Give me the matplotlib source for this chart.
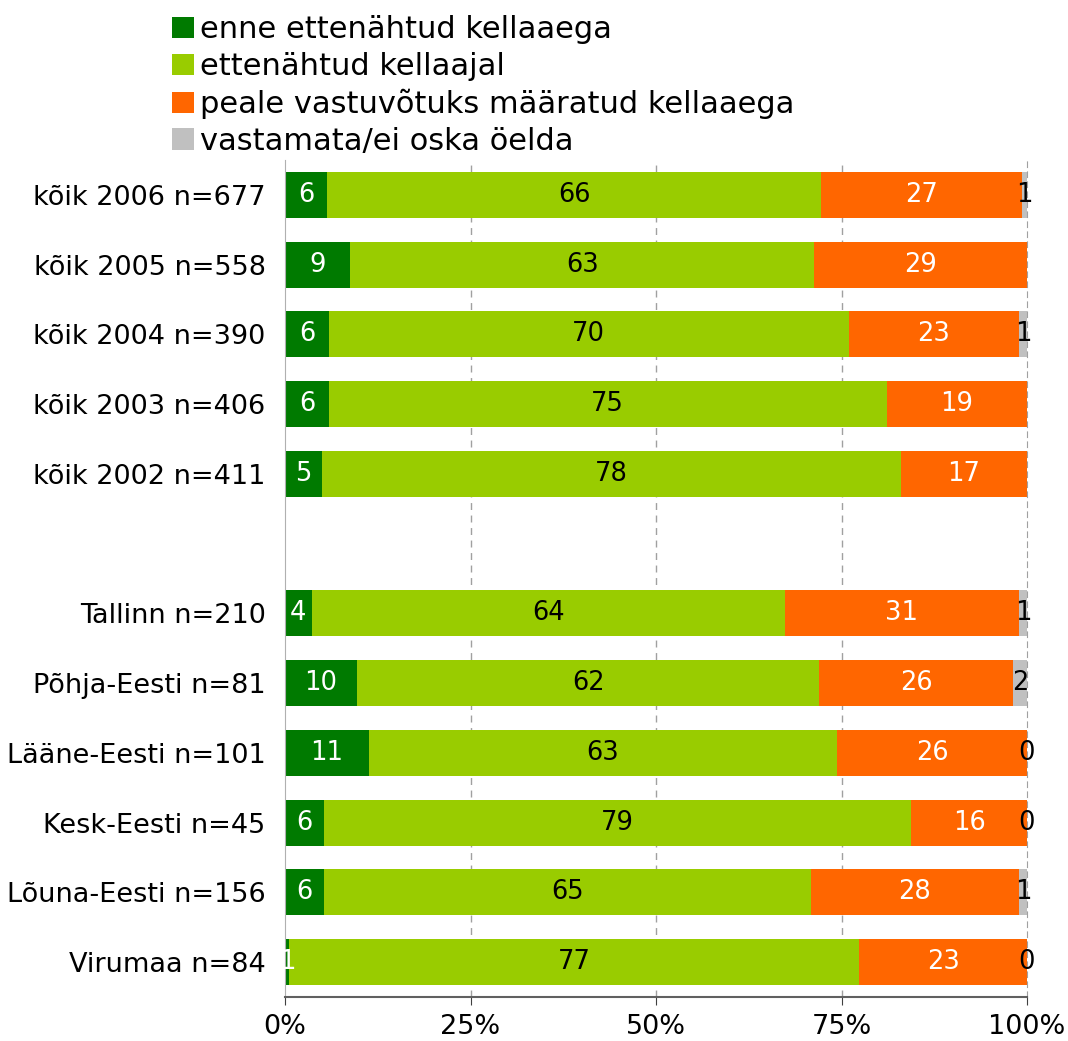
import matplotlib
matplotlib.use("Agg")
import matplotlib.pyplot as plt
import numpy as np

plt.rcParams['font.family'] = ['DejaVu Sans']

# kategooriad ülevalt alla (None = tühi vahe)
categories = ['kõik 2006 n=677', 'kõik 2005 n=558', 'kõik 2004 n=390',
              'kõik 2003 n=406', 'kõik 2002 n=411', None,
              'Tallinn n=210', 'Põhja-Eesti n=81', 'Lääne-Eesti n=101',
              'Kesk-Eesti n=45', 'Lõuna-Eesti n=156', 'Virumaa n=84']

series_names = ['enne ettenähtud kellaaega', 'ettenähtud kellaajal',
                'peale vastuvõtuks määratud kellaaega', 'vastamata/ei oska öelda']

# ribade tegelikud osakaalud (%)
enne = [5.7, 8.8, 5.9, 5.9, 5.0, 0, 3.6, 9.7, 11.3, 5.3, 5.3, 0.5]
ajal = [66.5, 62.5, 70.1, 75.2, 78.0, 0, 63.8, 62.3, 63.1, 79.1, 65.6, 76.9]
peale = [27.1, 28.7, 22.9, 18.9, 17.0, 0, 31.5, 26.1, 25.6, 15.6, 28.0, 22.6]
vastamata = [0.7, 0.0, 1.1, 0.0, 0.0, 0, 1.1, 1.9, 0.0, 0.0, 1.1, 0.0]

# sildid nagu joonisel
lab_enne = [6, 9, 6, 6, 5, None, 4, 10, 11, 6, 6, 1]
lab_ajal = [66, 63, 70, 75, 78, None, 64, 62, 63, 79, 65, 77]
lab_peale = [27, 29, 23, 19, 17, None, 31, 26, 26, 16, 28, 23]
lab_vast = [1, None, 1, None, None, None, 1, 2, 0, 0, 1, 0]

colors = ['#007A00', '#99CC00', '#FF6600', '#C0C0C0']
text_colors = ['white', 'black', 'white', 'black']

fig = plt.figure(figsize=(10.68, 10.41), dpi=100)
ax = fig.add_axes([0.2669, 0.0423, 0.6947, 0.804])

y = np.arange(len(categories))
data = [enne, ajal, peale, vastamata]
labels = [lab_enne, lab_ajal, lab_peale, lab_vast]
left = np.zeros(len(categories))
for vals, labs, col, tcol, name in zip(data, labels, colors, text_colors, series_names):
    vals = np.array(vals, dtype=float)
    ax.barh(y, vals, left=left, height=0.66, color=col, label=name, zorder=2)
    for i, lab in enumerate(labs):
        if lab is None:
            continue
        ax.text(left[i] + vals[i] / 2, y[i], str(lab), ha='center', va='center',
                color=tcol, fontsize=18.5, zorder=3)
    left += vals

ax.set_ylim(len(categories) - 0.5, -0.5)
ax.set_xlim(0, 100)
ax.set_yticks([i for i, c in enumerate(categories) if c is not None])
ax.set_yticklabels([c for c in categories if c is not None], fontsize=19.5)
ax.tick_params(axis='y', length=0, pad=14)
ax.set_xticks([0, 25, 50, 75, 100])
ax.set_xticklabels(['0%', '25%', '50%', '75%', '100%'], fontsize=19.5)
ax.tick_params(axis='x', direction='out', length=6, pad=6, color='#404040')

for xv in [25, 50, 75]:
    ax.axvline(xv, color='#A0A0A0', linestyle=(0, (5, 4)), linewidth=1, zorder=1)

ax.spines['top'].set_visible(False)
ax.spines['right'].set_color('#A0A0A0')
ax.spines['right'].set_linestyle((0, (5, 4)))
ax.spines['left'].set_color('#B0B0B0')
ax.spines['bottom'].set_color('#606060')
ax.spines['bottom'].set_linewidth(1.5)

fig.legend(loc='upper left', bbox_to_anchor=(0.15, 0.997), frameon=False,
           fontsize=22, handlelength=0.7, handleheight=0.7,
           handletextpad=0.2, labelspacing=0.25, borderaxespad=0)

fig.savefig('out.png', dpi=100)
